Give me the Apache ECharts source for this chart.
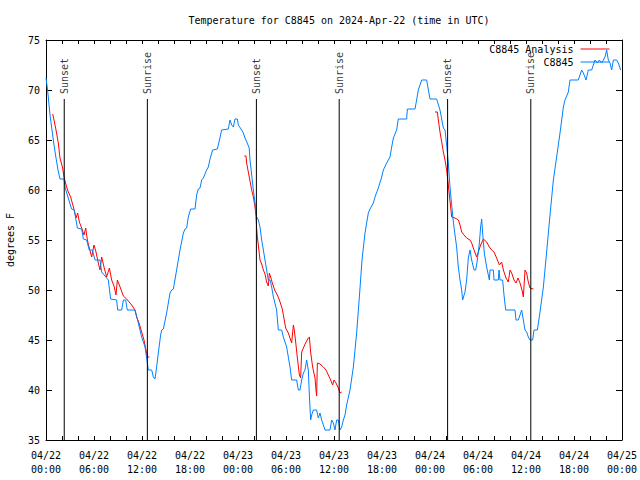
<!DOCTYPE html>
<html>
<head>
<meta charset="utf-8">
<script src="https://cdn.jsdelivr.net/npm/echarts@6/dist/echarts.min.js"></script>
<style>html,body{margin:0;padding:0;background:#fff}#c{width:640px;height:480px}</style>
</head>
<body>
<div id="c"></div>
<script>
// hours since 2024-04-22 00:00 UTC
const obsHours = [0,0.2,0.5,0.75,1.0,1.25,1.5,1.75,2.25,2.4,3.2,3.54,3.92,4.46,4.67,5.08,5.41,5.79,6.13,6.75,6.96,7.79,8.08,8.83,8.96,9.46,9.67,9.96,10.16,11.13,11.54,11.96,12.375,12.62,12.79,13.21,13.42,13.625,13.83,14.04,14.33,14.46,14.67,15.08,15.5,15.71,15.92,16.33,16.75,17.17,17.375,17.58,17.79,18.08,18.625,18.83,19.04,19.25,19.46,19.67,20.08,20.29,20.5,20.83,21.42,21.625,21.96,22.79,23.0,23.21,23.42,23.625,23.92,24.04,24.46,24.67,24.875,25.1,25.4,25.5,25.71,25.92,26.125,26.33,26.54,26.75,26.96,27.17,27.375,27.58,27.79,28.0,28.21,28.42,28.83,29.04,29.46,29.67,30.08,30.5,30.71,31.33,31.54,31.75,31.96,32.17,32.375,32.58,32.79,32.92,33.08,33.21,33.42,33.83,34.04,34.25,34.46,34.67,34.875,35.5,35.71,35.92,36.125,36.33,36.54,36.75,36.96,37.17,37.375,37.58,38.0,38.42,38.83,39.17,39.5,39.875,40.29,40.5,40.92,41.125,41.54,41.96,42.17,42.58,43.0,43.21,43.42,43.83,44.04,45.08,45.17,46.125,46.33,46.54,46.96,47.58,48.0,48.83,49.25,49.67,49.875,50.08,50.29,50.5,50.71,50.92,51.125,51.33,51.54,51.75,51.96,52.08,52.375,52.58,52.79,53.0,53.21,53.5,53.71,53.92,54.17,54.33,54.46,54.58,54.79,55.08,55.29,55.42,55.5,55.92,56.0,56.54,56.625,56.75,57.08,57.25,57.46,58.625,58.75,59.04,59.25,59.46,59.67,59.875,60.08,60.29,60.5,60.83,61.0,61.42,61.75,62.17,62.58,63.0,63.42,63.83,64.25,64.67,64.875,65.29,65.5,66.54,66.96,67.17,67.5,67.79,68.21,68.625,68.92,69.17,69.46,69.875,70.08,70.29,70.5,70.71,70.92,71.33,71.54,71.83];
const obsTemps = [71.2,70,67.5,66,64.5,63.2,62,61.1,61.1,60.2,58.1,58,56.2,56.1,55.1,55,54,54,53,53,51.8,51,49.1,49,48,48,49,49,48,48,46.7,45.3,44.3,43,42,42,41.3,41.1,42.3,43.7,45.5,46,46.1,47.7,49.7,50,50.1,52,54,55.7,56.1,56.2,57.3,58.1,58.1,59.5,60.1,60.2,61,61.2,62,62.3,63.1,64,64.1,64.8,66,66.1,67,66.5,66.3,67.1,67.1,66.5,66,65.7,65.2,64.8,64.2,63,61.5,60,58.7,57.3,57,56.3,55,54,53,52,51,51,50.3,49.3,48,46,46,45.3,44.3,42.3,41,41,40,40,41,41.7,42,43,42,39.5,37,37.5,38,38,37.2,37.7,37,36.5,36,36,37,36.7,36,37,37,36,36.3,37,37.5,38.5,40,42.3,45.7,49.3,53,55.7,57.7,58.1,58.7,59.3,60.2,61.3,62,62.7,63.3,64.3,65.2,66,67.1,67.1,68.1,68.1,69,70,71,71,69.1,69.1,68,66.2,66,64.5,62.7,60.3,58.5,56.8,55.5,54.3,52.3,51,50,49,49.8,51,53.2,54,53,52,52,53,54.7,56.3,57.1,55.7,53.7,52.3,51.5,51,52,52,51,51,52,51,51,49.5,48,48,47,47,47.5,48,47,46,45.8,45.3,45,45,46,46,47.8,50.3,53.8,57.5,61,63.3,65.7,68.3,69,69.8,71,71,72,71.7,71,72,72,73,72.7,73,72.7,73.3,74,73,72.7,72,73,73,72.7,72];

const anaHours = [0.84,1.0,1.25,1.54,1.75,2.08,2.25,2.58,2.79,3.08,3.42,3.75,3.96,4.17,4.46,4.75,4.96,5.17,5.41,5.71,6.0,6.25,6.54,6.75,6.96,7.25,7.58,7.92,8.21,8.5,8.75,8.92,9.17,9.67,10.08,10.71,11.125,11.33,11.625,11.96,12.25,12.5,12.67,12.92,
 18,
 24.79,25.0,25.08,25.29,25.5,25.71,25.92,26.125,26.25,26.33,26.42,26.54,26.75,26.96,27.17,27.375,27.58,27.79,27.92,28.08,28.29,28.625,28.92,29.17,29.5,29.67,29.96,30.29,30.5,30.71,30.92,31.04,31.25,31.42,31.67,31.83,31.96,32.17,32.5,32.79,32.92,33.08,33.33,33.625,33.75,33.83,33.92,34.25,34.67,35.0,35.29,35.58,35.83,36.0,36.25,36.54,36.75,36.96,
 42,
 48.625,48.92,49.04,49.25,49.46,49.67,49.875,50.08,50.29,50.42,50.58,50.71,51.125,51.54,51.75,51.96,52.25,52.58,53.0,53.21,53.5,53.83,54.04,54.33,54.67,55.08,55.42,55.71,56.0,56.33,56.67,56.96,57.17,57.5,57.79,58.0,58.21,58.5,58.75,59.0,59.25,59.5,59.67,59.875,60.08,60.29,60.5,60.92];
const anaTemps = [67.6,67,66,64.7,63.2,62.2,61.3,60.3,59.8,59.3,58.3,57.2,57.7,56.8,56.2,55.5,56.2,55,54.2,53.3,54.5,53.8,52.7,52,53.3,52.3,51.3,52.2,51,50.4,49.5,51,50.5,49.4,49.1,48.5,48,47.3,46.7,45.8,45,44,43.3,43.3,
 null,
 63.4,63.4,62.7,61.8,60.9,60,59.3,58.3,57.4,56.2,55.3,54.5,53,52.6,52,51.6,50.8,50.4,51.7,51.3,50.7,49.9,49.5,49,48.2,47.5,46.2,45.7,45.2,44.7,46.5,46,44.5,43.2,41.5,41.2,43.8,44.2,44.8,45.2,45.3,43.8,42.3,41.2,40,39.4,42.7,42.6,42.3,42,41.5,41,40.5,41,40.7,40.2,39.7,39.8,
 null,
 67.8,67.8,67,65.8,64.8,63.8,63,62,60.5,59.5,58.3,57.3,57.2,57,56.5,55.8,55.5,55.2,55,54.7,54,53.3,53.8,54.5,55.1,54.8,54.3,54,53.8,53.2,52.5,52.8,52,51.2,50.8,52,51.7,51,50.7,51.2,50.7,50,49.3,52,51.7,50.8,50.2,50.1];

const sunHours = [2.28, 12.67, 26.3, 36.65, 50.2, 60.6];
const sunNames = ['Sunset','Sunrise','Sunset','Sunrise','Sunset','Sunrise'];
const sunLineTop = 69.1;

const tickHours = [0,6,12,18,24,30,36,42,48,54,60,66,72];
const tickLabels = ['04/22\n00:00','04/22\n06:00','04/22\n12:00','04/22\n18:00','04/23\n00:00','04/23\n06:00','04/23\n12:00','04/23\n18:00','04/24\n00:00','04/24\n06:00','04/24\n12:00','04/24\n18:00','04/25\n00:00'];

const FONT = 'DejaVu Sans Mono';
const obsData = obsHours.map((h,i)=>[h, obsTemps[i]]);
const anaData = anaHours.map((h,i)=>[h, anaTemps[i]]);
const sunLineData = [];
sunHours.forEach(h=>{ sunLineData.push([h,35]); sunLineData.push([h,sunLineTop]); sunLineData.push([h,null]); });
const sunLabelData = sunHours.map((h,i)=>({value:[h, sunLineTop], name: sunNames[i]}));

const axisCommon = {
  type:'value', min:0, max:72, interval:2,
  axisLine:{show:true, onZero:false, lineStyle:{color:'#000', width:1}},
  axisTick:{show:true, inside:true, length:4, lineStyle:{color:'#000'}},
  splitLine:{show:false}
};
const yCommon = {
  type:'value', min:35, max:75, interval:5,
  axisLine:{show:true, onZero:false, lineStyle:{color:'#000', width:1}},
  axisTick:{show:true, inside:true, length:6, lineStyle:{color:'#000'}},
  splitLine:{show:false}
};

const chart = echarts.init(document.getElementById('c'), null, {renderer:'svg'});
chart.setOption({
  animation:false,
  backgroundColor:'#fff',
  title:{
    text:'Temperature for C8845 on 2024-Apr-22 (time in UTC)',
    left:334, top:10, textAlign:'center',
    textStyle:{fontFamily:FONT, fontSize:10, fontWeight:'normal', color:'#000'}
  },
  legend:{
    data:['C8845 Analysis','C8845'],
    orient:'vertical', right:30, top:44, padding:0, align:'right',
    itemWidth:29, itemHeight:10, itemGap:3, selectedMode:false,
    itemStyle:{opacity:0, borderWidth:0},
    lineStyle:{width:1},
    textStyle:{fontFamily:FONT, fontSize:10, color:'#000', padding:[0,2,0,0]}
  },
  grid:{left:46, right:18, top:40, bottom:40, containLabel:false, outerBoundsMode:'none'},
  xAxis:[
    Object.assign({}, axisCommon, {position:'bottom',
      axisLabel:{show:true, margin:8, fontFamily:FONT, fontSize:10, color:'#000', lineHeight:14,
        formatter:(v)=>{ const i = tickHours.indexOf(v); return i>=0 ? tickLabels[i] : ''; }}}),
    Object.assign({}, axisCommon, {position:'top', axisLabel:{show:false}})
  ],
  yAxis:[
    Object.assign({}, yCommon, {position:'left', name:'degrees F', nameLocation:'middle', nameGap:31, nameRotate:90,
      nameTextStyle:{fontFamily:FONT, fontSize:10, color:'#000'},
      axisLabel:{show:true, margin:6, fontFamily:FONT, fontSize:10, color:'#000'}}),
    Object.assign({}, yCommon, {position:'right', axisLabel:{show:false}})
  ],
  series:[
    {name:'C8845 Analysis', type:'line', data:anaData, symbol:'none', connectNulls:false,
      lineStyle:{color:'#ff0000', width:1}, itemStyle:{color:'#ff0000'}, z:3},
    {name:'C8845', type:'line', data:obsData, symbol:'none',
      lineStyle:{color:'#0080ff', width:1}, itemStyle:{color:'#0080ff'}, z:4},
    {name:'sun', type:'line', data:sunLineData, symbol:'none', connectNulls:false,
      lineStyle:{color:'#000', width:1}, z:5, silent:true},
    {name:'sunLabels', type:'scatter', data:sunLabelData, symbolSize:0, silent:true, z:6,
      label:{show:true, position:'top', distance:5, rotate:90, align:'left', verticalAlign:'middle',
        formatter:(p)=>p.name, fontFamily:FONT, fontSize:10, color:'#000'}}
  ]
});
</script>
</body>
</html>
